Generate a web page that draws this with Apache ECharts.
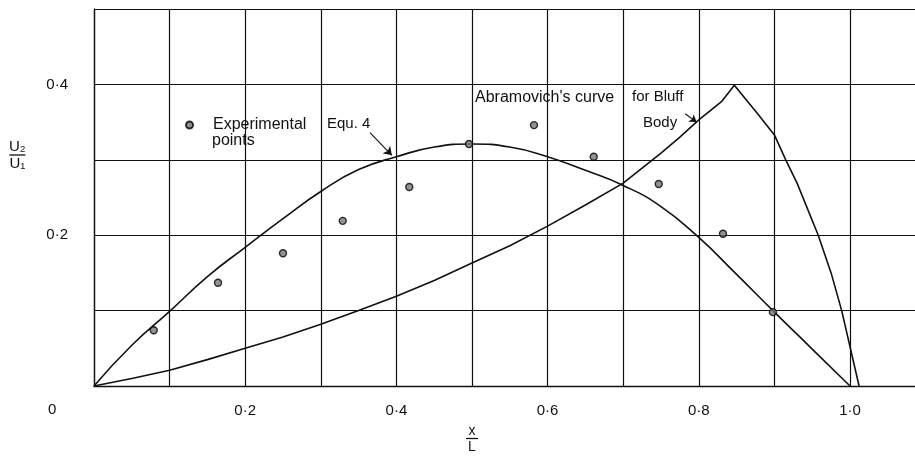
<!DOCTYPE html>
<html><head><meta charset="utf-8">
<script src="https://cdn.jsdelivr.net/npm/echarts@6/dist/echarts.min.js"></script>
<style>html,body{margin:0;padding:0;background:#fff}#c{width:915px;height:458px}</style>
</head><body><div id="c"></div>
<script>
// Experimental points
const expX = [0.079, 0.164, 0.25, 0.329, 0.417, 0.496, 0.582, 0.661, 0.747, 0.832, 0.898];
const expY = [0.074, 0.137, 0.176, 0.219, 0.264, 0.321, 0.346, 0.304, 0.268, 0.202, 0.098];
// Equ. 4 curve
const equ4X = [0, 0.05, 0.1, 0.15, 0.2, 0.25, 0.3, 0.35, 0.4, 0.45, 0.5, 0.55, 0.6, 0.65, 0.7, 0.75, 0.8, 0.85, 0.9, 0.95, 1.0];
const equ4Y = [0, 0.054, 0.099, 0.145, 0.184, 0.222, 0.258, 0.287, 0.304, 0.317, 0.321, 0.317, 0.304, 0.286, 0.266, 0.238, 0.197, 0.148, 0.098, 0.049, 0];
// Abramovich's curve for Bluff Body
const abrX = [0, 0.05, 0.1, 0.15, 0.2, 0.25, 0.3, 0.35, 0.4, 0.45, 0.5, 0.55, 0.6, 0.65, 0.7, 0.75, 0.775, 0.8, 0.83, 0.847, 0.877, 0.9, 0.915, 0.93, 0.958, 0.975, 0.989, 1.012];
const abrY = [0, 0.010, 0.021, 0.035, 0.050, 0.065, 0.082, 0.100, 0.119, 0.140, 0.163, 0.186, 0.212, 0.240, 0.269, 0.309, 0.330, 0.353, 0.377, 0.399, 0.362, 0.333, 0.300, 0.269, 0.200, 0.150, 0.100, 0];
// Tick labels
const xTickValues = [0.2, 0.4, 0.6, 0.8, 1.0];
const xTickLabels = ['0·2', '0·4', '0·6', '0·8', '1·0'];
const yTickValues = [0.2, 0.4];
const yTickLabels = ['0·2', '0·4'];
const originLabel = '0';

const pairs = (xs, ys) => xs.map((x, i) => [x, ys[i]]);
const lookup = (vals, labs) => v => { for (let i = 0; i < vals.length; i++) if (Math.abs(v - vals[i]) < 1e-6) return labs[i]; return ''; };
const FONT = '"Liberation Sans", Arial, sans-serif';
const INK = '#111';

const chart = echarts.init(document.getElementById('c'), null, {renderer: 'canvas'});
const option = {
  backgroundColor: '#fff',
  animation: false,
  grid: {left: 94, top: 9, width: 831.6, height: 377, containLabel: false, outerBoundsMode: 'none'},
  xAxis: {
    type: 'value', min: 0, max: 1.1, interval: 0.1,
    axisLine: {show: true, lineStyle: {color: INK, width: 1.3}},
    axisTick: {show: false},
    splitLine: {show: true, lineStyle: {color: INK, width: 1.2}},
    axisLabel: {formatter: lookup(xTickValues, xTickLabels), color: INK, fontSize: 15, fontFamily: FONT, margin: 17}
  },
  yAxis: {
    type: 'value', min: 0, max: 0.5, interval: 0.1,
    axisLine: {show: true, lineStyle: {color: INK, width: 1.3}},
    axisTick: {show: false},
    splitLine: {show: true, lineStyle: {color: INK, width: 1.2}},
    axisLabel: {formatter: lookup(yTickValues, yTickLabels), color: INK, fontSize: 15, fontFamily: FONT, margin: 26}
  },
  legend: {
    left: 180, top: 112, orient: 'vertical',
    itemWidth: 7, itemHeight: 7,
    data: [{name: 'Experimental points', icon: 'circle'}],
    formatter: () => 'Experimental',
    textStyle: {color: INK, fontSize: 16, fontFamily: FONT, lineHeight: 16, padding: [0, 0, 0, 15]}
  },
  series: [
    {
      name: 'Equ. 4', type: 'line', data: pairs(equ4X, equ4Y), smooth: 0.5,
      showSymbol: false, lineStyle: {color: INK, width: 1.6}, z: 3,
      markLine: {
        silent: true, symbol: ['none', 'arrow'], symbolSize: 8,
        lineStyle: {color: INK, width: 1.1, type: 'solid'}, label: {show: false},
        data: [[{coord: [0.365, 0.336]}, {coord: [0.394, 0.306]}]]
      }
    },
    {
      name: "Abramovich's curve for Bluff Body", type: 'line', data: pairs(abrX, abrY), smooth: false,
      showSymbol: false, lineStyle: {color: INK, width: 1.6}, z: 3,
      markLine: {
        silent: true, symbol: ['none', 'arrow'], symbolSize: 7,
        lineStyle: {color: INK, width: 1.1, type: 'solid'}, label: {show: false},
        data: [[{coord: [0.782, 0.361]}, {coord: [0.797, 0.350]}]]
      }
    },
    {
      name: 'Experimental points', type: 'scatter', data: pairs(expX, expY),
      symbol: 'circle', symbolSize: 7, z: 5,
      itemStyle: {color: '#777', borderColor: '#000', borderWidth: 1.4}
    }
  ],
  graphic: [
    {type: 'text', left: 212, top: 133, style: {text: 'points', fontSize: 16, fontFamily: FONT, fill: INK}},
    {type: 'text', left: 48, top: 402, style: {text: originLabel, fontSize: 15, fontFamily: FONT, fill: INK}},
    {type: 'text', left: 327, top: 116, style: {text: 'Equ. 4', fontSize: 15, fontFamily: FONT, fill: INK}},
    {type: 'text', left: 475, top: 90, style: {text: "Abramovich's curve", fontSize: 16, fontFamily: FONT, fill: INK}},
    {type: 'text', left: 632, top: 89, style: {text: 'for Bluff', fontSize: 15, fontFamily: FONT, fill: INK}},
    {type: 'text', left: 643, top: 115, style: {text: 'Body', fontSize: 15, fontFamily: FONT, fill: INK}},
    {type: 'text', left: 9, top: 139, style: {
      text: '{n|U₂}\n{b|}\n{d|U₁}', fill: INK, fontFamily: FONT, align: 'center',
      rich: {
        n: {fontSize: 15, lineHeight: 14, fontFamily: FONT, align: 'center'},
        b: {width: 16, height: 1.3, lineHeight: 3, backgroundColor: INK, align: 'center'},
        d: {fontSize: 15, lineHeight: 15, fontFamily: FONT, align: 'center'}
      }}},
    {type: 'text', left: 466, top: 424, style: {
      text: '{n|x}\n{b|}\n{d|L}', fill: INK, fontFamily: FONT, align: 'center',
      rich: {
        n: {fontSize: 14, lineHeight: 12, fontFamily: FONT, align: 'center'},
        b: {width: 12, height: 1.3, lineHeight: 3, backgroundColor: INK, align: 'center'},
        d: {fontSize: 14, lineHeight: 15, fontFamily: FONT, align: 'center'}
      }}}
  ]
};
chart.setOption(option);
</script></body></html>
